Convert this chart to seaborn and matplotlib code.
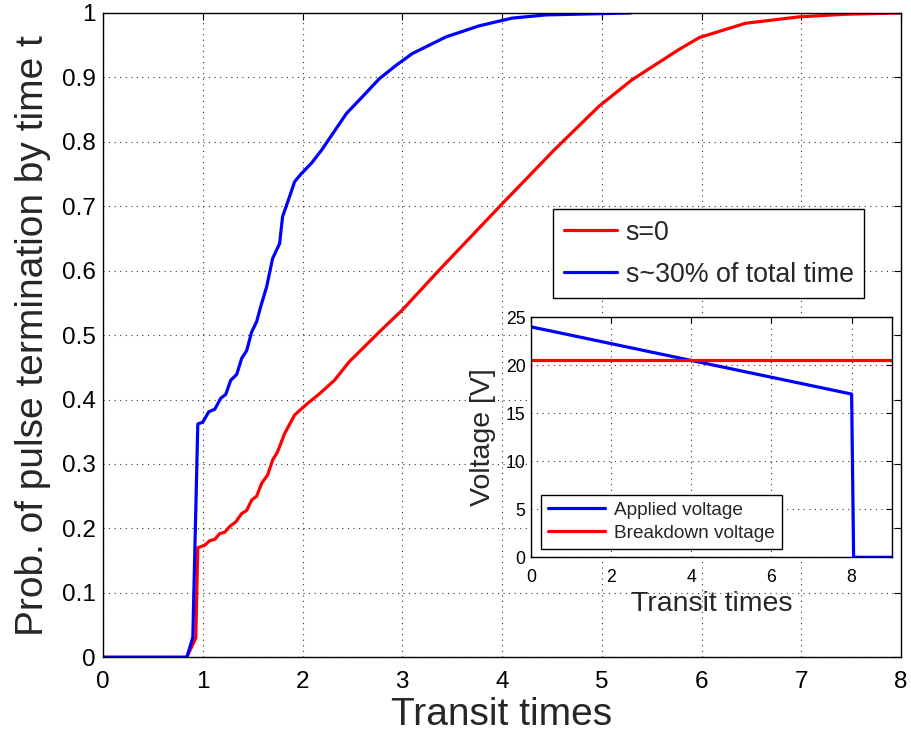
import numpy as np
import pandas as pd
import matplotlib
matplotlib.use("Agg")
import matplotlib.pyplot as plt
import seaborn as sns

# curve data (time in transit times, cumulative probability)
red_t = [0, 0.84, 0.93, 0.95, 1.02, 1.07, 1.12, 1.17, 1.22, 1.27, 1.33, 1.39, 1.44, 1.49,
         1.54, 1.59, 1.65, 1.70, 1.75, 1.82, 1.92, 2.05, 2.17, 2.32, 2.47, 2.77, 3.0, 3.37,
         3.99, 4.52, 4.97, 5.30, 5.77, 5.98, 6.44, 6.98, 7.44, 8.0]
red_p = [0, 0, 0.03, 0.17, 0.174, 0.181, 0.183, 0.192, 0.194, 0.203, 0.210, 0.223, 0.228,
         0.244, 0.250, 0.270, 0.283, 0.306, 0.319, 0.347, 0.376, 0.394, 0.409, 0.430, 0.459,
         0.505, 0.539, 0.601, 0.702, 0.787, 0.855, 0.896, 0.943, 0.962, 0.984, 0.994, 0.998, 1.0]

blue_t = [0, 0.84, 0.90, 0.95, 1.00, 1.06, 1.12, 1.18, 1.23, 1.28, 1.34, 1.39, 1.44, 1.49,
          1.54, 1.58, 1.64, 1.70, 1.77, 1.80, 1.87, 1.92, 1.99, 2.09, 2.19, 2.44, 2.60, 2.77,
          2.94, 3.10, 3.44, 3.77, 4.10, 4.44, 5.29]
blue_p = [0, 0, 0.031, 0.362, 0.365, 0.381, 0.385, 0.402, 0.408, 0.430, 0.439, 0.464, 0.476,
          0.505, 0.521, 0.544, 0.575, 0.619, 0.642, 0.684, 0.715, 0.738, 0.751, 0.767, 0.787,
          0.844, 0.870, 0.898, 0.919, 0.937, 0.963, 0.980, 0.992, 0.997, 1.0]

# inset: voltage pulse
volt_t = [0, 8, 8.05, 9]
volt_v = [24, 17, 0, 0]
brk_t = [0, 9]
brk_v = [20.5, 20.5]

x_ticks = [0, 1, 2, 3, 4, 5, 6, 7, 8]
y_ticks = [0, 0.1, 0.2, 0.3, 0.4, 0.5, 0.6, 0.7, 0.8, 0.9, 1]
y_labels = ["0", "0.1", "0.2", "0.3", "0.4", "0.5", "0.6", "0.7", "0.8", "0.9", "1"]
in_x_ticks = [0, 2, 4, 6, 8]
in_y_ticks = [0, 5, 10, 15, 20, 25]

sns.set_style("white")
plt.rcParams.update({
    "font.family": ["Liberation Sans", "DejaVu Sans"],
    "xtick.direction": "in",
    "ytick.direction": "in",
    "xtick.top": True,
    "ytick.right": True,
    "axes.edgecolor": "black",
    "axes.linewidth": 1.0,
})

df_red = pd.DataFrame({"t": red_t, "p": red_p})
df_blue = pd.DataFrame({"t": blue_t, "p": blue_p})
df_volt = pd.DataFrame({"t": volt_t, "v": volt_v})
df_brk = pd.DataFrame({"t": brk_t, "v": brk_v})

fig = plt.figure(figsize=(9.11, 7.33), dpi=100)
ax = fig.add_axes([0.1131, 0.1033, 0.876, 0.879])

sns.lineplot(data=df_red, x="t", y="p", ax=ax, color="#ff0000", lw=2.3,
             sort=False, estimator=None, label="s=0")
sns.lineplot(data=df_blue, x="t", y="p", ax=ax, color="#0000ff", lw=2.3,
             sort=False, estimator=None, label="s~30% of total time")

ax.set_xlim(0, 8)
ax.set_ylim(0, 1)
ax.set_xticks(x_ticks)
ax.set_yticks(y_ticks)
ax.set_yticklabels(y_labels)
ax.tick_params(labelsize=17.5, length=5, width=0.8, colors="black")
ax.tick_params(axis="x", pad=10)
ax.tick_params(axis="y", pad=5)
ax.grid(True, linestyle=(0, (1, 4)), color="black", linewidth=0.8, alpha=0.8)
ax.set_xlabel("Transit times", fontsize=28, labelpad=2.5)
ax.set_ylabel("Prob. of pulse termination by time t", fontsize=28, labelpad=8)
for s in ax.spines.values():
    s.set_visible(True)

leg = ax.legend(loc="upper left", bbox_to_anchor=(0.564, 0.696), fontsize=19.3,
                frameon=True, fancybox=False, edgecolor="black", framealpha=1,
                handlelength=2.0, borderpad=0.4, labelspacing=0.6, handletextpad=0.3,
                borderaxespad=0)
leg.get_frame().set_linewidth(1.0)

# inset axes
ax2 = fig.add_axes([0.5829, 0.2397, 0.3959, 0.3275])
sns.lineplot(data=df_volt, x="t", y="v", ax=ax2, color="#0000ff", lw=2.3,
             sort=False, estimator=None, label="Applied voltage")
sns.lineplot(data=df_brk, x="t", y="v", ax=ax2, color="#ff0000", lw=2.3,
             sort=False, estimator=None, label="Breakdown voltage")
ax2.set_xlim(0, 9)
ax2.set_ylim(0, 25)
ax2.set_xticks(in_x_ticks)
ax2.set_yticks(in_y_ticks)
ax2.tick_params(labelsize=12.7, length=4, width=0.8, colors="black")
ax2.tick_params(axis="x", pad=8.2)
ax2.tick_params(axis="y", pad=4)
ax2.grid(True, linestyle=(0, (1, 4)), color="black", linewidth=0.8, alpha=0.8)
ax2.set_xlabel("Transit times", fontsize=20.5, labelpad=4)
ax2.set_ylabel("Voltage [V]", fontsize=20.5, labelpad=7)
for s in ax2.spines.values():
    s.set_visible(True)
leg2 = ax2.legend(loc="lower left", bbox_to_anchor=(0.028, 0.036), fontsize=13.7,
                  frameon=True, fancybox=False, edgecolor="black", framealpha=1,
                  handlelength=3.0, borderpad=0.35, labelspacing=0.3, handletextpad=0.5,
                  borderaxespad=0)
leg2.get_frame().set_linewidth(1.0)

fig.savefig("out.png", dpi=100, facecolor="white")
